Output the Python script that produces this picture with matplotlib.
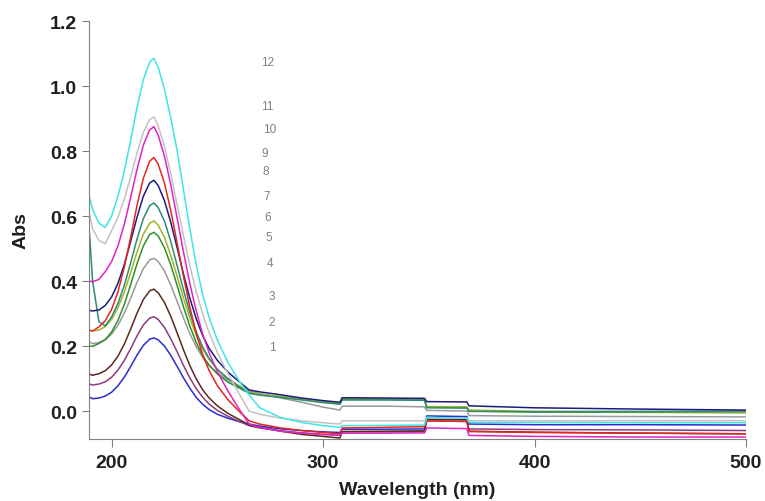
###########################################################
# UV-vis absorbance spectra, 12 successive measurements  #
###########################################################

import numpy as np
import matplotlib.pyplot as plt

# wavelength sampling (nm) shared by all spectra
wavelength = [189, 191, 194, 197, 200, 203, 206, 209, 212, 215, 218, 220,
              222, 225, 228, 231, 234, 237, 240, 243, 246, 250, 255, 260, 265,
              270, 280, 290, 300, 308, 309, 330, 348, 349, 368, 369, 400, 450, 500]

# absorbance values, one list per curve
abs1 = [.045, .038, .040, .046, .058, .078, .104, .137, .172, .202, .221, .225,
        .219, .200, .171, .137, .102, .070, .042, .021, .005, -.010, -.022, -.032, -.040,
        -.046, -.055, -.060, -.064, -.066, -.056, -.056, -.055, -.015, -.017, -.040, -.042, -.042, -.043]
abs2 = [.085, .080, .083, .090, .104, .126, .156, .192, .231, .265, .286, .290,
        .282, .257, .222, .182, .140, .102, .069, .043, .022, .002, -.016, -.031, -.045,
        -.052, -.061, -.067, -.072, -.074, -.064, -.064, -.063, -.030, -.032, -.055, -.057, -.058, -.060]
abs3 = [.115, .110, .115, .124, .142, .169, .206, .252, .301, .343, .370, .375,
        .364, .334, .291, .240, .188, .140, .099, .066, .041, .016, -.007, -.025, -.042,
        -.050, -.062, -.072, -.078, -.083, -.063, -.062, -.061, -.025, -.027, -.062, -.065, -.068, -.070]
abs4 = [.215, .207, .211, .219, .237, .264, .301, .347, .396, .438, .465, .470,
        .460, .431, .387, .337, .286, .238, .198, .165, .141, .117, .096, .078, .062,
        .054, .040, .027, .012, .003, .015, .015, .013, .002, .000, -.014, -.016, -.017, -.018]
abs5 = [.200, .199, .208, .220, .243, .279, .328, .389, .453, .508, .543, .550,
        .539, .502, .449, .386, .320, .261, .211, .171, .142, .114, .089, .072, .055,
        .050, .043, .036, .028, .022, .036, .036, .035, .012, .011, .000, -.003, -.004, -.005]
abs6 = [.250, .247, .249, .260, .282, .318, .366, .426, .489, .544, .578, .585,
        .572, .534, .478, .414, .347, .285, .233, .192, .160, .129, .100, .079, .058,
        .052, .045, .037, .029, .024, .038, .038, .037, .014, .013, .003, -.001, -.002, -.003]
abs7 = [.600, .400, .275, .262, .290, .331, .387, .456, .529, .592, .632, .640,
        .626, .584, .521, .447, .372, .303, .244, .198, .163, .128, .099, .076, .055,
        .049, .042, .034, .026, .021, .034, .034, .033, .010, .009, -.001, -.002, -.001, .000]
abs8 = [.310, .308, .311, .325, .351, .393, .451, .522, .596, .661, .702, .710,
        .694, .647, .580, .502, .421, .347, .284, .233, .194, .156, .120, .092, .065,
        .059, .050, .040, .032, .027, .041, .040, .039, .029, .028, .016, .010, .006, .003]
abs9 = [.250, .246, .259, .278, .313, .367, .443, .535, .632, .716, .769, .780,
        .760, .701, .616, .516, .414, .319, .239, .175, .126, .078, .035, .001, -.030,
        -.040, -.052, -.060, -.066, -.070, -.052, -.050, -.048, -.030, -.032, -.063, -.066, -.068, -.070]
abs10 = [.400, .398, .405, .429, .460, .508, .575, .657, .743, .818, .865, .875,
         .849, .784, .695, .593, .489, .392, .308, .238, .181, .121, .062, .009, -.040,
         -.050, -.062, -.068, -.072, -.074, -.068, -.068, -.067, -.052, -.054, -.075, -.078, -.080, -.080]
abs11 = [.620, .560, .525, .515, .555, .596, .652, .721, .794, .857, .897, .905,
         .877, .814, .729, .634, .538, .447, .367, .300, .243, .180, .115, .057, .000,
         -.010, -.022, -.030, -.036, -.040, -.030, -.030, -.030, -.020, -.022, -.030, -.030, -.030, -.030]
abs12 = [.670, .620, .578, .565, .600, .661, .738, .833, .933, 1.020, 1.074, 1.085,
         1.058, .990, .900, .800, .680, .560, .450, .360, .290, .218, .150, .095, .050,
         .010, -.020, -.035, -.045, -.050, -.045, -.044, -.043, -.020, -.022, -.035, -.035, -.036, -.036]

spectra = [abs1, abs2, abs3, abs4, abs5, abs6, abs7, abs8, abs9, abs10, abs11, abs12]
colors = ['#2b2bd0', '#8e3a80', '#5a2a1e', '#9a9a9a', '#2f8f2f', '#a3b423',
          '#2e8b78', '#1c1c80', '#e8261e', '#e024c4', '#c8c0c0', '#3ee6e6']

# curve numbers written next to the band
label_text = ['1', '2', '3', '4', '5', '6', '7', '8', '9', '10', '11', '12']
label_x = [276.1, 275.6, 275.6, 274.7, 274.2, 273.7, 273.2, 272.7, 272.3, 274.7, 273.7, 273.7]
label_y = [0.198, 0.275, 0.354, 0.455, 0.534, 0.598, 0.663, 0.739, 0.794, 0.867, 0.940, 1.075]

if __name__ == '__main__':
    plt.rcParams['font.family'] = ['Liberation Sans', 'DejaVu Sans']

    fig = plt.figure(figsize=(7.65, 5.02), dpi=100)
    ax = fig.add_axes([89/765, 62/502, 657/765, 418/502])

    # plot the spectra
    for i, spec in enumerate(spectra):
        ax.plot(wavelength, spec, color=colors[i], lw=1.1)

    for t, x, y in zip(label_text, label_x, label_y):
        ax.text(x, y, t, fontsize=8.5, color='#808080', ha='center', va='center')

    # axes styling
    ax.set_xlim(189.3, 500)
    ax.set_ylim(-0.086, 1.2)
    ax.set_xticks([200, 300, 400, 500])
    ax.set_yticks([0.0, 0.2, 0.4, 0.6, 0.8, 1.0, 1.2])
    ax.set_yticklabels(['%.1f' % v for v in ax.get_yticks()])
    for s in ['top', 'right']:
        ax.spines[s].set_visible(False)
    for s in ['left', 'bottom']:
        ax.spines[s].set_color('#808080')
    ax.tick_params(axis='both', colors='#808080', labelcolor='#202020', labelsize=14)
    ax.tick_params(axis='x', length=6, pad=5)
    ax.tick_params(axis='y', length=5, pad=3.5)
    for lab in ax.get_xticklabels() + ax.get_yticklabels():
        lab.set_fontweight('bold')

    ax.set_xlabel('Wavelength (nm)', fontsize=14, fontweight='bold', color='#202020')
    ax.set_ylabel('Abs', fontsize=14, fontweight='bold', color='#202020')
    ax.xaxis.set_label_coords(0.5, -0.1)
    ax.yaxis.set_label_coords(-0.09, 0.5)

    fig.savefig('out.png', dpi=100)
